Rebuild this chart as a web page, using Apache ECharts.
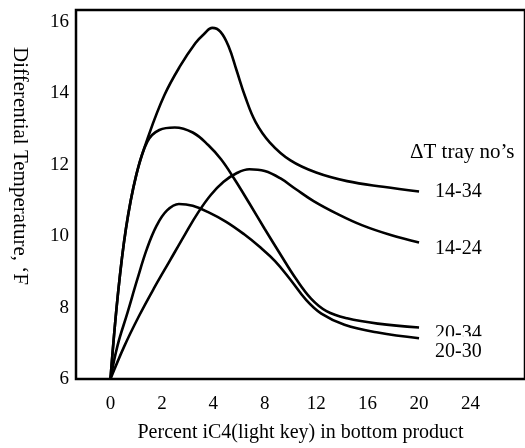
<!DOCTYPE html>
<html>
<head>
<meta charset="utf-8">
<script src="https://cdn.jsdelivr.net/npm/echarts@6/dist/echarts.min.js"></script>
<style>
html,body{margin:0;padding:0;background:#fff;}
#c{width:525px;height:448px;}
</style>
</head>
<body>
<div id="c"></div>
<script>
// x values are positions along the (non-linear) x axis: position i carries label xTickLabels[i]
const xTickLabels = ['0','2','4','8','12','16','20','24'];
const xTickPositions = [0,1,2,3,4,5,6,7];
const yTickValues = [6,8,10,12,14,16];

const s1434 = [[0,6],[0.14,8.3],[0.3,10.2],[0.5,11.7],[0.75,12.85],[1.05,13.95],[1.35,14.75],[1.65,15.4],[1.82,15.66],[1.98,15.83],[2.14,15.72],[2.3,15.3],[2.45,14.65],[2.62,13.9],[2.82,13.2],[3.1,12.62],[3.5,12.12],[4.0,11.78],[4.6,11.54],[5.3,11.38],[6.0,11.25]];
const s1424 = [[0,6],[0.27,6.92],[0.55,7.75],[0.85,8.55],[1.15,9.3],[1.45,10.05],[1.7,10.65],[1.95,11.15],[2.2,11.52],[2.45,11.76],[2.7,11.87],[3.0,11.82],[3.3,11.62],[3.6,11.32],[3.95,10.98],[4.4,10.63],[4.9,10.3],[5.45,10.03],[6.0,9.82]];
const s2034 = [[0,6],[0.14,8.3],[0.3,10.2],[0.5,11.7],[0.72,12.65],[0.95,12.97],[1.25,13.04],[1.6,12.9],[1.9,12.55],[2.15,12.15],[2.4,11.62],[2.7,10.92],[3.0,10.2],[3.3,9.5],[3.6,8.82],[3.9,8.25],[4.2,7.9],[4.6,7.7],[5.2,7.55],[6.0,7.44]];
const s2030 = [[0,6],[0.14,6.95],[0.33,7.85],[0.52,8.78],[0.71,9.65],[0.9,10.3],[1.1,10.72],[1.33,10.9],[1.6,10.85],[1.9,10.67],[2.25,10.4],[2.6,10.05],[2.9,9.7],[3.2,9.3],[3.5,8.78],[3.8,8.22],[4.1,7.83],[4.55,7.52],[5.2,7.3],[6.0,7.14]];

const seriesNames = ['14-34','14-24','20-34','20-30'];
const seriesData = [s1434, s1424, s2034, s2030];
const labelOffsets = [[0,0],[0,6],[0,6],[0,13]];

const FONT = '"Liberation Serif", "Times New Roman", serif';

const chart = echarts.init(document.getElementById('c'), null, {renderer:'canvas'});
const option = {
  animation: false,
  backgroundColor: '#fff',
  grid: {left: 76, top: 10, right: -5, bottom: 66, show: true, borderColor: '#000', borderWidth: 2.5, backgroundColor: 'transparent'},
  xAxis: {
    type: 'value', min: -0.67, max: 8.06,
    axisLine: {show: false}, axisTick: {show: false}, splitLine: {show: false},
    axisLabel: {customValues: xTickPositions, formatter: v => xTickLabels[Math.round(v)] ?? '', color: '#000', fontFamily: FONT, fontSize: 19, margin: 16},
    name: 'Percent iC4(light key) in bottom product', nameLocation: 'middle', nameGap: 44,
    nameTextStyle: {color: '#000', fontFamily: FONT, fontSize: 20}
  },
  yAxis: {
    type: 'value', min: 6, max: 16.33,
    axisLine: {show: false}, axisTick: {show: false}, splitLine: {show: false},
    axisLabel: {customValues: yTickValues, color: '#000', fontFamily: FONT, fontSize: 19, margin: 7}
  },
  graphic: [
    {type: 'text', x: 20, y: 166, rotation: -Math.PI/2,
     style: {text: 'Differential Temperature, \u2018F', font: '21px ' + FONT, fill: '#000', textAlign: 'center', textVerticalAlign: 'middle'}},
    {type: 'text', x: 410, y: 152,
     style: {text: '\u0394T tray no\u2019s', font: '21px ' + FONT, fill: '#000', textAlign: 'left', textVerticalAlign: 'middle'}}
  ],
  series: seriesNames.map((n, i) => ({
    name: n, type: 'line', data: seriesData[i], smooth: 0.4, symbol: 'none',
    lineStyle: {color: '#000', width: 2.6},
    endLabel: {
      show: true, formatter: n, distance: 16, offset: labelOffsets[i],
      color: '#000', fontFamily: FONT, fontSize: 20,
      backgroundColor: i === 3 ? '#fff' : 'transparent',
      padding: i === 3 ? [10, 0, 0, 0] : 0
    }
  }))
};
chart.setOption(option);
</script>
</body>
</html>
